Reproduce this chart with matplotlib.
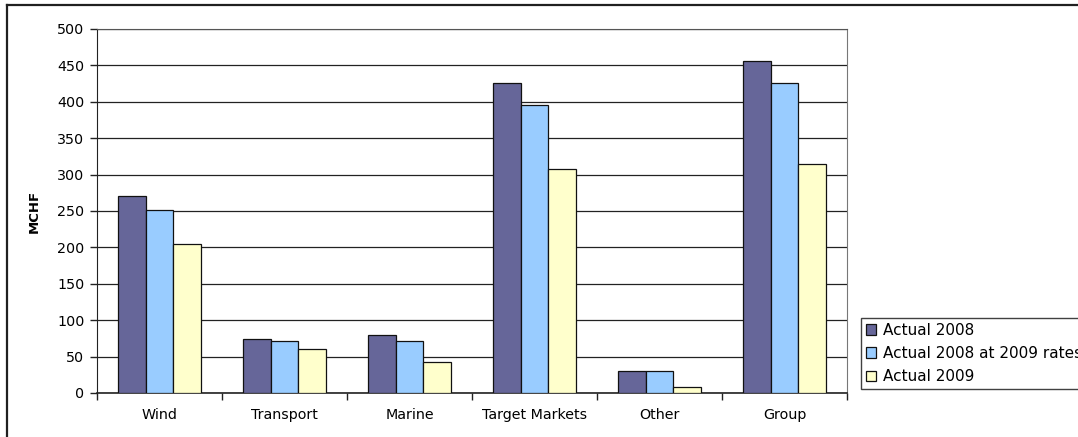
import matplotlib
matplotlib.use("Agg")
import matplotlib.pyplot as plt
import numpy as np
from matplotlib.lines import Line2D

categories = ["Wind", "Transport", "Marine", "Target Markets", "Other", "Group"]
actual_2008 = [270, 74, 80, 426, 30, 456]
actual_2008_at_2009_rates = [251, 72, 72, 395, 30, 426]
actual_2009 = [205, 60, 43, 308, 8, 314]

series_names = ["Actual 2008", "Actual 2008 at 2009 rates", "Actual 2009"]
series_values = [actual_2008, actual_2008_at_2009_rates, actual_2009]
series_colors = ["#666699", "#99CCFF", "#FFFFCC"]

plt.rcParams["font.family"] = ["DejaVu Sans"]

W, H = 1078, 437
fig = plt.figure(figsize=(W / 100, H / 100), dpi=100)
fig.patch.set_facecolor("white")

# outer chart frame (top and left edges)
fig.add_artist(Line2D([7 / W, 1.0], [1 - 5 / H, 1 - 5 / H], color="#202020", lw=1.6,
                      transform=fig.transFigure))
fig.add_artist(Line2D([7 / W, 7 / W], [0.0, 1 - 5 / H], color="#202020", lw=1.6,
                      transform=fig.transFigure))

left, right, top, bottom = 97, 847, 29, 393
ax = fig.add_axes([left / W, 1 - bottom / H, (right - left) / W, (bottom - top) / H])

n = len(categories)
x = np.arange(n)
bw = 1 / 4.5  # gap width 150% of a bar
offsets = [-bw, 0, bw]
for name, vals, col, off in zip(series_names, series_values, series_colors, offsets):
    ax.bar(x + off, vals, width=bw, color=col, edgecolor="#111111", linewidth=0.9,
           label=name, zorder=3)

ax.set_xlim(-0.5, n - 0.5)
ax.set_ylim(0, 500)
ax.set_yticks(np.arange(0, 501, 50))
ax.yaxis.grid(True, color="#222222", lw=0.9, zorder=0)
ax.set_axisbelow(True)

ax.set_xticks(x)
ax.set_xticklabels(categories, fontsize=10.3)
ax.tick_params(axis="x", which="major", length=0, pad=11)
ax.set_xticks(np.arange(-0.5, n, 1.0), minor=True)
ax.tick_params(axis="x", which="minor", length=5, width=1, color="#222222", direction="out")
ax.tick_params(axis="y", length=5, width=1, color="#222222", pad=4, labelsize=10.3)

ax.spines["left"].set_color("#222222")
ax.spines["bottom"].set_color("#222222")
ax.spines["bottom"].set_linewidth(1.2)
ax.spines["top"].set_color("#555555")
ax.spines["right"].set_color("#777777")

ax.set_ylabel("MCHF", fontsize=9.5, fontweight="bold", labelpad=12)

leg = fig.legend(loc="upper left", bbox_to_anchor=(861 / W, 1 - 318 / H),
                 bbox_transform=fig.transFigure, fontsize=11, frameon=True,
                 fancybox=False, edgecolor="#111111", handlelength=0.7,
                 handleheight=0.7, handletextpad=0.45, labelspacing=0.55,
                 borderpad=0.3, borderaxespad=0)
leg.get_frame().set_linewidth(1.0)

fig.savefig("out.png", dpi=100)
